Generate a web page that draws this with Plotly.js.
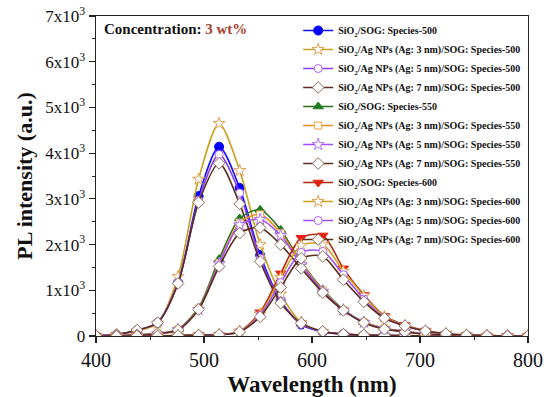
<!DOCTYPE html>
<html>
<head>
<meta charset="utf-8">
<script src="https://cdn.plot.ly/plotly-3.0.1.min.js"></script>
<style>html,body{margin:0;padding:0;background:#fff;}#chart{width:550px;height:397px;}</style>
</head>
<body>
<div id="chart"></div>
<script>
// Wavelength (nm)
var wavelength = [400, 419, 438, 457, 476, 495, 514, 533, 552, 571, 590, 610, 629, 648, 667, 686, 705, 724, 743, 762, 781, 800];

// Species-500
var sog500  = [0, 30, 120, 290, 1170, 3060, 4140, 3240, 1770, 780, 250, 90, 40, 20, 10, 5, 0, 0, 0, 0, 0, 0];
var ag3_500 = [0, 30, 110, 280, 1300, 3430, 4650, 3620, 2000, 920, 300, 100, 40, 20, 10, 5, 0, 0, 0, 0, 0, 0];
var ag5_500 = [0, 30, 130, 300, 1170, 2970, 3970, 3130, 1700, 760, 260, 90, 40, 20, 10, 5, 0, 0, 0, 0, 0, 0];
var ag7_500 = [0, 30, 130, 290, 1150, 2920, 3780, 2890, 1630, 720, 280, 100, 40, 20, 10, 5, 0, 0, 0, 0, 0, 0];

// Species-550
var sog550  = [0, 0, 20, 50, 150, 620, 1680, 2570, 2760, 2320, 1620, 1020, 580, 300, 170, 100, 40, 20, 10, 5, 0, 0];
var ag3_550 = [0, 0, 20, 50, 140, 600, 1600, 2480, 2660, 2250, 1600, 1000, 570, 300, 170, 100, 40, 20, 10, 5, 0, 0];
var ag5_550 = [0, 0, 20, 50, 140, 580, 1580, 2430, 2550, 2200, 1560, 980, 570, 300, 160, 100, 40, 20, 10, 5, 0, 0];
var ag7_550 = [0, 0, 20, 50, 130, 580, 1520, 2250, 2370, 2000, 1480, 950, 560, 290, 150, 90, 40, 20, 10, 5, 0, 0];

// Species-600
var sog600  = [0, 0, 0, 0, 10, 20, 30, 100, 520, 1370, 2150, 2200, 1480, 900, 440, 240, 120, 50, 20, 10, 0, 0];
var ag3_600 = [0, 0, 0, 0, 10, 20, 30, 100, 480, 1280, 1980, 2000, 1420, 880, 420, 230, 110, 50, 20, 10, 0, 0];
var ag5_600 = [0, 0, 0, 0, 10, 20, 30, 90, 450, 1170, 1830, 1850, 1340, 810, 400, 220, 110, 50, 20, 10, 0, 0];
var ag7_600 = [0, 0, 0, 0, 10, 20, 30, 90, 420, 1060, 1700, 1740, 1230, 750, 390, 220, 110, 50, 20, 10, 0, 0];

var seriesNames = [
  "SiO<sub>2</sub>/SOG: Species-500",
  "SiO<sub>2</sub>/Ag NPs (Ag: 3 nm)/SOG: Species-500",
  "SiO<sub>2</sub>/Ag NPs (Ag: 5 nm)/SOG: Species-500",
  "SiO<sub>2</sub>/Ag NPs (Ag: 7 nm)/SOG: Species-500",
  "SiO<sub>2</sub>/SOG: Species-550",
  "SiO<sub>2</sub>/Ag NPs (Ag: 3 nm)/SOG: Species-550",
  "SiO<sub>2</sub>/Ag NPs (Ag: 5 nm)/SOG: Species-550",
  "SiO<sub>2</sub>/Ag NPs (Ag: 7 nm)/SOG: Species-550",
  "SiO<sub>2</sub>/SOG: Species-600",
  "SiO<sub>2</sub>/Ag NPs (Ag: 3 nm)/SOG: Species-600",
  "SiO<sub>2</sub>/Ag NPs (Ag: 5 nm)/SOG: Species-600",
  "SiO<sub>2</sub>/Ag NPs (Ag: 7 nm)/SOG: Species-600"
];
var seriesValues = [sog500, ag3_500, ag5_500, ag7_500, sog550, ag3_550, ag5_550, ag7_550, sog600, ag3_600, ag5_600, ag7_600];

var yTickVals = [0, 1000, 2000, 3000, 4000, 5000, 6000, 7000];
var yTickText = ["0", "1x10<sup>3</sup>", "2x10<sup>3</sup>", "3x10<sup>3</sup>", "4x10<sup>3</sup>", "5x10<sup>3</sup>", "6x10<sup>3</sup>", "7x10<sup>3</sup>"];
var xTickVals = [400, 500, 600, 700, 800];

// styles: [line color, marker symbol, marker fill, marker outline, size]
var styles = [
  ["#1010f0", "circle", "#0000ff", "#0000ff", 9],
  ["#c9a020", "star", "#ffffff", "#e0a050", 9],
  ["#8a3cf0", "circle", "#ffffff", "#b060ff", 8],
  ["#5c2e1e", "diamond", "#ffffff", "#8a6a5a", 9],
  ["#2e6e1e", "triangle-up", "#1f7a1f", "#1f7a1f", 9],
  ["#e89020", "square", "#ffffff", "#f0a040", 7],
  ["#a050ff", "star", "#ffffff", "#b070ff", 9],
  ["#5c2e1e", "diamond", "#ffffff", "#8a6a5a", 9],
  ["#b02a10", "triangle-down", "#e82010", "#e82010", 9],
  ["#d4a020", "star", "#ffffff", "#e0a050", 9],
  ["#a050f0", "circle", "#ffffff", "#b060ff", 8],
  ["#5c2e1e", "diamond", "#ffffff", "#8a6a5a", 9]
];

var traces = seriesValues.map(function (vals, i) {
  var s = styles[i];
  return {
    x: wavelength,
    y: vals,
    name: seriesNames[i],
    type: "scatter",
    mode: "lines+markers",
    line: {color: s[0], width: 1.6, shape: "spline", smoothing: 0.8},
    marker: {symbol: s[1], color: s[2], size: s[4], line: {color: s[3], width: 1}}
  };
});

var serif = "'Liberation Serif', 'Times New Roman', serif";

var layout = {
  width: 550,
  height: 397,
  margin: {l: 96, r: 22, t: 16, b: 61},
  paper_bgcolor: "#ffffff",
  plot_bgcolor: "#ffffff",
  showlegend: true,
  legend: {
    x: 0.468, y: 1.0, xanchor: "left", yanchor: "top",
    bgcolor: "rgba(255,255,255,0)",
    borderwidth: 0,
    itemwidth: 30,
    tracegroupgap: 0,
    font: {family: serif, size: 10, color: "#111111", weight: "bold"}
  },
  xaxis: {
    range: [400, 800],
    tickvals: xTickVals,
    ticks: "outside",
    ticklen: 6,
    tickwidth: 1.2,
    tickcolor: "#222",
    minor: {dtick: 50, ticks: "outside", ticklen: 3, tickcolor: "#222", tickwidth: 1},
    showline: true,
    linecolor: "#222",
    linewidth: 1.3,
    mirror: true,
    showgrid: false,
    zeroline: false,
    tickfont: {family: serif, size: 20, color: "#111"},
    title: {text: "<b>Wavelength (nm)</b>", font: {family: serif, size: 23, color: "#111"}, standoff: 7}
  },
  yaxis: {
    range: [0, 7000],
    tickvals: yTickVals,
    ticktext: yTickText,
    ticks: "outside",
    ticklen: 6,
    tickwidth: 1.2,
    tickcolor: "#222",
    minor: {dtick: 500, ticks: "outside", ticklen: 3, tickcolor: "#222", tickwidth: 1},
    showline: true,
    linecolor: "#222",
    linewidth: 1.3,
    mirror: true,
    showgrid: false,
    zeroline: false,
    tickfont: {family: serif, size: 17, color: "#111"},
    title: {text: "<b>PL intensity (a.u.)</b>", font: {family: serif, size: 22, color: "#111"}, standoff: 6}
  },
  annotations: [{
    xref: "paper", yref: "paper",
    x: 0.014, y: 0.96, xanchor: "left", yanchor: "middle",
    showarrow: false,
    text: "<b>Concentration: <span style='color:#a8402c'>3 wt%</span></b>",
    font: {family: serif, size: 15, color: "#111"}
  }]
};

Plotly.newPlot("chart", traces, layout, {displayModeBar: false, staticPlot: true});
</script>
</body>
</html>
